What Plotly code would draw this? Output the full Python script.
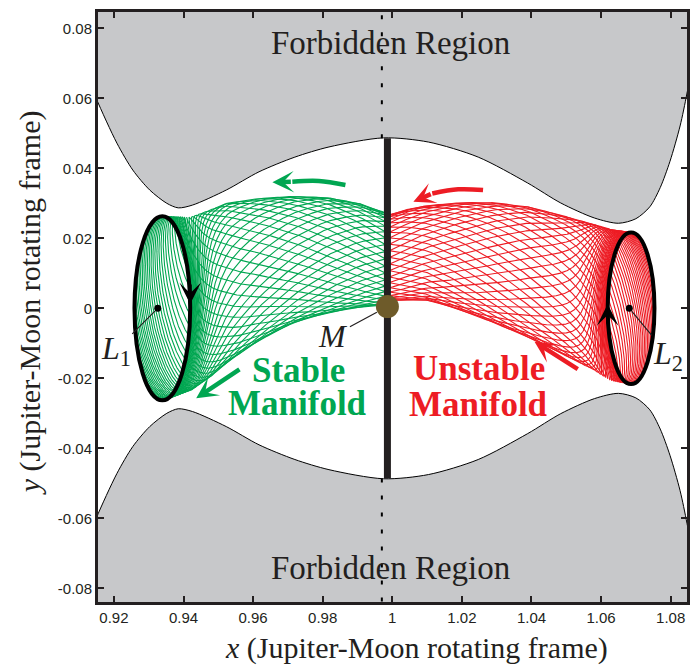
import numpy as np
import plotly.graph_objects as go

# ---------------------------------------------------------------------------
# Values (Jupiter-Moon rotating frame, normalised units)
# ---------------------------------------------------------------------------
# Upper zero-velocity boundary; the lower boundary is its mirror image in y
FORBIDDEN_X = [0.9100, 0.91485, 0.92086, 0.92543, 0.93029, 0.9352, 0.9385,
               0.9426, 0.9523, 0.9617, 0.9720, 0.9818, 0.9975, 1.0104,
               1.0247, 1.0389, 1.0484, 1.0581, 1.0650, 1.0700, 1.0740,
               1.0770, 1.0798, 1.0827, 1.0847, 1.0880]
FORBIDDEN_Y = [0.0722, 0.0601, 0.0472, 0.0395, 0.0338, 0.0300, 0.0287,
               0.0295, 0.0338, 0.0390, 0.0432, 0.0461, 0.0487, 0.0475,
               0.0432, 0.0358, 0.0301, 0.0258, 0.0243, 0.0256, 0.0290,
               0.0345, 0.0420, 0.0521, 0.0615, 0.0797]

# Libration points and the moon
LIBRATION_X = [0.9326, 1.0681]
LIBRATION_Y = [0.0, 0.0]
MOON_X = 0.9986
MOON_Y = 0.0005
MOON_NECK = 0.0486          # half-length of the line through the moon
SYZYGY_X = 0.9970           # dotted line through the forbidden region

# Periodic (Lyapunov) orbits: centre x, half-width, half-height
L1_ORBIT = [0.93392, 0.0080, 0.0263]
L2_ORBIT = [1.06862, 0.00672, 0.02166]

# Outer envelopes of the manifold tubes (upper / lower edge)
STABLE_ENV_X = [0.9339, 0.9420, 0.9475, 0.9523, 0.9618, 0.9712, 0.9810, 0.9904, 0.9986]
STABLE_ENV_TOP = [0.0263, 0.0260, 0.0280, 0.0300, 0.0314, 0.0320, 0.0317, 0.0300, 0.0271]
STABLE_ENV_BOT = [-0.0263, -0.0234, -0.0197, -0.0157, -0.0091, -0.0043, -0.0014, 0.0003, 0.0010]

UNSTABLE_ENV_X = [0.9986, 1.0056, 1.0104, 1.0199, 1.0296, 1.0391, 1.0485, 1.0582, 1.0628, 1.0686]
UNSTABLE_ENV_TOP = [0.0266, 0.0286, 0.0294, 0.0302, 0.0302, 0.0290, 0.0266, 0.0239, 0.0225, 0.02166]
UNSTABLE_ENV_BOT = [0.0023, 0.0023, 0.0023, -0.0006, -0.0043, -0.0083, -0.0129, -0.0177, -0.0206, -0.02166]

X_TICKS = [0.92, 0.94, 0.96, 0.98, 1.00, 1.02, 1.04, 1.06, 1.08]
X_TICK_TEXT = ["0.92", "0.94", "0.96", "0.98", "1", "1.02", "1.04", "1.06", "1.08"]
Y_TICKS = [-0.08, -0.06, -0.04, -0.02, 0.0, 0.02, 0.04, 0.06, 0.08]
Y_TICK_TEXT = ["-0.08", "-0.06", "-0.04", "-0.02", "0", "0.02", "0.04", "0.06", "0.08"]

GREEN = "#00a651"
RED = "#ed1c24"
GREY = "#c7c8ca"
INK = "#231f20"
MOON_COLOUR = "#6e5b2a"
SERIF = "Liberation Serif, Times New Roman, serif"
SANS = "Liberation Sans, Arial, sans-serif"


def tube_paths(orbit, env_x, env_top, env_bot, x_end, n=40, near_turn=3.6,
               near_scale=0.045, far_turn=1.6, shrink=0.09, m=900):
    """Trajectories winding away from a periodic orbit along a tube.

    s runs from the orbit (0) to the section through the moon (1); the
    trajectories wind quickly close to the orbit and slowly further out.
    """
    xc, a, _ = orbit
    s = np.linspace(0.0, 1.0, m) ** 2
    d = np.sign(x_end - xc)
    amp_x = a * np.exp(-s / shrink)
    centre_x = xc + d * (a - amp_x) + s * (x_end - xc - d * a)
    top = np.interp(centre_x, env_x, env_top)
    bot = np.interp(centre_x, env_x, env_bot)
    centre_y = 0.5 * (top + bot)
    half_h = 0.5 * (top - bot)
    turn = near_turn * (1.0 - np.exp(-s / near_scale)) + far_turn * s
    xs, ys = [], []
    for j in range(n):
        ph = 2 * np.pi * j / n + turn
        x = centre_x + amp_x * np.cos(ph)
        y = centre_y + half_h * np.sin(ph)
        x = np.minimum(x, x_end) if d > 0 else np.maximum(x, x_end)
        xs.extend(x.tolist() + [None])
        ys.extend(y.tolist() + [None])
    return xs, ys


fig = go.Figure()

# Forbidden regions (grey), bounded by the zero-velocity curve
fx = list(FORBIDDEN_X)
fy = list(FORBIDDEN_Y)
for sign in (1, -1):
    fig.add_trace(go.Scatter(
        x=fx + [fx[-1], fx[0]],
        y=[sign * v for v in fy] + [sign * 0.2, sign * 0.2],
        mode="lines", fill="toself", fillcolor=GREY,
        line=dict(color="black", width=1, shape="spline", smoothing=0.8),
        hoverinfo="skip", showlegend=False))

# Dotted line through the forbidden regions
fig.add_trace(go.Scatter(
    x=[SYZYGY_X, SYZYGY_X, None, SYZYGY_X, SYZYGY_X],
    y=[MOON_NECK, 0.09, None, -MOON_NECK, -0.09],
    mode="lines", line=dict(color="black", width=2, dash="4px,13px"),
    hoverinfo="skip", showlegend=False))

# Stable manifold of the L1 orbit and unstable manifold of the L2 orbit
sx, sy = tube_paths(L1_ORBIT, STABLE_ENV_X, STABLE_ENV_TOP, STABLE_ENV_BOT, MOON_X)
fig.add_trace(go.Scatter(x=sx, y=sy, mode="lines",
                         line=dict(color=GREEN, width=1.1),
                         hoverinfo="skip", showlegend=False))
ux, uy = tube_paths(L2_ORBIT, UNSTABLE_ENV_X, UNSTABLE_ENV_TOP, UNSTABLE_ENV_BOT, MOON_X)
fig.add_trace(go.Scatter(x=ux, y=uy, mode="lines",
                         line=dict(color=RED, width=1.1),
                         hoverinfo="skip", showlegend=False))

# Line through the moon
fig.add_trace(go.Scatter(x=[MOON_X, MOON_X], y=[-MOON_NECK, MOON_NECK],
                         mode="lines", line=dict(color=INK, width=7),
                         hoverinfo="skip", showlegend=False))

# Curved flow arrows (shafts)
fig.add_trace(go.Scatter(x=[0.98653, 0.97890, 0.97127], y=[0.03523, 0.03637, 0.03617],
                         mode="lines", line=dict(color=GREEN, width=4.5, shape="spline"),
                         hoverinfo="skip", showlegend=False))
fig.add_trace(go.Scatter(x=[1.02608, 1.01893, 1.01149], y=[0.0338, 0.0340, 0.0328],
                         mode="lines", line=dict(color=RED, width=4.5, shape="spline"),
                         hoverinfo="skip", showlegend=False))

# Moon and libration points
fig.add_trace(go.Scatter(x=[MOON_X], y=[MOON_Y], mode="markers",
                         marker=dict(size=23, color=MOON_COLOUR, line=dict(width=0)),
                         hoverinfo="skip", showlegend=False))
fig.add_trace(go.Scatter(x=LIBRATION_X, y=LIBRATION_Y, mode="markers",
                         marker=dict(size=7, color="black"),
                         hoverinfo="skip", showlegend=False))

# Periodic orbits
shapes = []
for xc, a, b in (L1_ORBIT, L2_ORBIT):
    shapes.append(dict(type="circle", xref="x", yref="y",
                       x0=xc - a, x1=xc + a, y0=-b, y1=b,
                       line=dict(color="black", width=4), layer="above"))

ann = []


def arrow(x, y, ax, ay, color, width, size):
    ann.append(dict(x=x, y=y, ax=ax, ay=ay, xref="x", yref="y", axref="x", ayref="y",
                    text="", showarrow=True, arrowhead=3, arrowsize=size,
                    arrowwidth=width, arrowcolor=color))


# Direction of motion on the orbits
arrow(L1_ORBIT[0] + L1_ORBIT[1], 0.0012, L1_ORBIT[0] + L1_ORBIT[1], 0.0072, "black", 3, 1.2)
arrow(L2_ORBIT[0] - L2_ORBIT[1], 0.0012, L2_ORBIT[0] - L2_ORBIT[1], -0.0048, "black", 3, 1.2)
# Flow arrows along the manifolds
arrow(0.96555, 0.0360, 0.97127, 0.03617, GREEN, 4.5, 0.8)
arrow(0.94365, -0.02571, 0.95651, -0.01714, GREEN, 4.5, 0.8)
arrow(1.00606, 0.03046, 1.01149, 0.0328, RED, 4.5, 0.8)
arrow(1.04087, -0.00954, 1.05373, -0.01763, RED, 4.5, 0.8)


def label(x, y, text, size, color=INK, bold=False):
    ann.append(dict(x=x, y=y, xref="x", yref="y", text=f"<b>{text}</b>" if bold else text,
                    showarrow=False, xanchor="center", yanchor="middle",
                    font=dict(family=SERIF, size=size, color=color)))


label(0.99948, 0.0757, "Forbidden Region", 33)
label(0.99948, -0.0742, "Forbidden Region", 33)
label(0.97318, -0.0179, "Stable", 35, GREEN, True)
label(0.97289, -0.0271, "Manifold", 35, GREEN, True)
label(1.02493, -0.0173, "Unstable", 35, RED, True)
label(1.02465, -0.0276, "Manifold", 35, RED, True)

# Point labels with leader lines
for x, y, ax, ay, text, stand in (
        (LIBRATION_X[0], 0.0, -42, 42, "<i>L</i><sub>1</sub>", 4),
        (LIBRATION_X[1], 0.0, 39, 47, "<i>L</i><sub>2</sub>", 4),
        (MOON_X, MOON_Y, -54, 29, "<i>M</i>", 12)):
    ann.append(dict(x=x, y=y, xref="x", yref="y", ax=ax, ay=ay, text=text,
                    showarrow=True, arrowhead=0, arrowwidth=1.2, arrowcolor=INK,
                    standoff=stand, font=dict(family=SERIF, size=32, color=INK)))

# Axis titles
ann.append(dict(x=0.5405, y=-0.078, xref="paper", yref="paper", showarrow=False,
                text="<i>x</i> (Jupiter-Moon rotating frame)",
                xanchor="center", yanchor="middle",
                font=dict(family=SERIF, size=30, color=INK)))
ann.append(dict(x=-0.1149, y=0.5068, xref="paper", yref="paper", showarrow=False,
                text="<i>y</i> (Jupiter-Moon rotating frame)", textangle=-90,
                xanchor="center", yanchor="middle",
                font=dict(family=SERIF, size=30, color=INK)))

axis_common = dict(showgrid=False, zeroline=False, showline=True, linewidth=3,
                   linecolor=INK, mirror="ticks", ticks="inside", ticklen=6,
                   tickwidth=1.5, tickcolor=INK,
                   tickfont=dict(family=SANS, size=15, color=INK))

fig.update_layout(
    width=690, height=667,
    margin=dict(l=98, r=0, t=12, b=65),
    paper_bgcolor="white", plot_bgcolor="white",
    xaxis=dict(range=[0.91543, 1.08469], tickvals=X_TICKS, ticktext=X_TICK_TEXT,
               **axis_common),
    yaxis=dict(range=[-0.08391, 0.08466], tickvals=Y_TICKS, ticktext=Y_TICK_TEXT,
               **axis_common),
    shapes=shapes, annotations=ann, showlegend=False,
)

fig.write_html("out.html")
